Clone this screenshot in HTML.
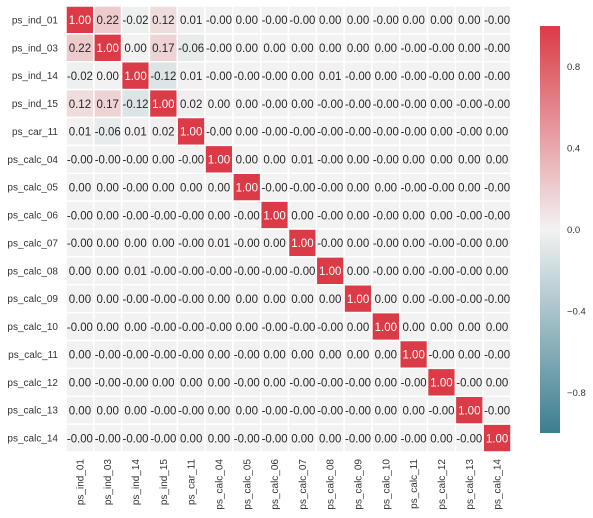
<!DOCTYPE html>
<html><head><meta charset="utf-8"><style>
body{margin:0;background:#fff;}
svg{display:block;font-family:"Liberation Sans",Arial,sans-serif;}
</style></head><body>
<svg id="chart" width="593" height="518" viewBox="0 0 593 518">
<defs><linearGradient id="cbg" x1="0" y1="0" x2="0" y2="1">
<stop offset="0" stop-color="rgb(218,59,70)"/>
<stop offset="0.5" stop-color="rgb(242,242,242)"/>
<stop offset="1" stop-color="rgb(61,125,143)"/>
</linearGradient></defs>
<g id="cells"></g>
<g id="ylabels"></g>
<g id="xlabels"></g>
<g id="cbar"></g>
</svg>
<script>
const labels = ["ps_ind_01","ps_ind_03","ps_ind_14","ps_ind_15","ps_car_11","ps_calc_04","ps_calc_05","ps_calc_06","ps_calc_07","ps_calc_08","ps_calc_09","ps_calc_10","ps_calc_11","ps_calc_12","ps_calc_13","ps_calc_14"];
const Z = -0.001;
const row0 = [1,0.22,-0.02,0.12,0.01,Z,0,Z,Z,0,0,Z,0,0,0,Z];
const row1 = [0.22,1,0,0.17,-0.06,Z,0,0,0,0,0,0,Z,Z,0,Z];
const row2 = [-0.02,0,1,-0.12,0.01,Z,Z,Z,0,0.01,Z,0,Z,Z,0,Z];
const row3 = [0.12,0.17,-0.12,1,0.02,0,0,Z,0,Z,Z,Z,Z,0,Z,Z];
const row4 = [0.01,-0.06,0.01,0.02,1,Z,0,Z,Z,Z,Z,Z,Z,0,Z,0];
const row5 = [Z,Z,Z,0,Z,1,0,0,0.01,Z,0,Z,0,0,0,0];
const row6 = [0,0,Z,0,0,0,1,Z,Z,Z,0,0,Z,Z,0,Z];
const row7 = [Z,0,Z,Z,Z,0,Z,1,0,Z,0,Z,0,0,Z,Z];
const row8 = [Z,0,0,0,Z,0.01,Z,0,1,Z,0,Z,0,Z,Z,0];
const row9 = [0,0,0.01,Z,Z,Z,Z,Z,Z,1,0,Z,0,Z,Z,0];
const row10 = [0,0,Z,Z,Z,0,0,0,0,0,1,0,0,Z,Z,Z];
const row11 = [Z,0,0,Z,Z,Z,0,Z,Z,Z,0,1,0,0,0,0];
const row12 = [0,Z,Z,Z,Z,0,Z,0,0,0,0,0,1,Z,0,Z];
const row13 = [0,Z,Z,0,0,0,Z,0,Z,Z,Z,0,Z,1,Z,0];
const row14 = [0,0,0,Z,Z,0,0,Z,Z,Z,Z,0,0,Z,1,Z];
const row15 = [Z,Z,Z,Z,0,0,Z,Z,0,0,Z,0,Z,0,Z,1];
const matrix = [row0,row1,row2,row3,row4,row5,row6,row7,row8,row9,row10,row11,row12,row13,row14,row15];
const cbarTicks = [0.8,0.4,0,-0.4,-0.8];

const NS="http://www.w3.org/2000/svg";
const X0=66,Y0=6,W=445,H=446,n=labels.length,cw=W/n,ch=H/n;
const xPos=i=>X0+i*cw, yPos=i=>Y0+i*ch;
const CB={x:540,w:20,top:26,bot:433};
const cbY=v=>CB.top+(1-v)/2*(CB.bot-CB.top);
function color(v){
  const mid=[242,242,242], pos=[218,59,70], neg=[61,125,143];
  const t=Math.min(1,Math.abs(v)), e=v>=0?pos:neg;
  const c=mid.map((m,k)=>Math.round(m+(e[k]-m)*t));
  return `rgb(${c[0]},${c[1]},${c[2]})`;
}
function mk(tag,attrs,parent){const el=document.createElementNS(NS,tag);for(const k in attrs)el.setAttribute(k,attrs[k]);parent.appendChild(el);return el;}
const gc=document.getElementById('cells');
matrix.forEach((row,r)=>row.forEach((v,c)=>{
  const rect=mk('rect',{x:xPos(c),y:yPos(r),width:cw,height:ch,fill:color(v),stroke:'#fff','stroke-width':1.5},gc);
  
  
  const s=v.toFixed(2);
  const attrs={x:xPos(c)+cw/2,y:yPos(r)+ch/2+4.2,'text-anchor':'middle','font-size':11.5,fill:Math.abs(v)>0.6?'#fff':'#262626'};
  if(s.length>4){attrs.textLength=26;attrs.lengthAdjust='spacingAndGlyphs';}
  const t=mk('text',attrs,gc);
  t.textContent=s;
  
  
}));
const gy=document.getElementById('ylabels'), gx=document.getElementById('xlabels');
labels.forEach((l,i)=>{
  const t=mk('text',{x:58,y:yPos(i)+ch/2+3.5,'text-anchor':'end','font-size':10,fill:'#333'},gy);
  t.textContent=l;
  
  
  const cx=xPos(i)+cw/2+3.5;
  const u=mk('text',{x:cx,y:459,'text-anchor':'end','font-size':10,fill:'#333',transform:`rotate(-90 ${cx} 459)`},gx);
  u.textContent=l;
  
  
});
const gb=document.getElementById('cbar');
const bar=mk('rect',{x:CB.x,y:CB.top,width:CB.w,height:CB.bot-CB.top,fill:'url(#cbg)'},gb);


cbarTicks.forEach(v=>{
  const t=mk('text',{x:567,y:cbY(v)+3.5,'font-size':9.5,fill:'#333'},gb);
  t.textContent=(v<0?'\u2212':'')+Math.abs(v).toFixed(1);
  
  
});
</script>
</body></html>
